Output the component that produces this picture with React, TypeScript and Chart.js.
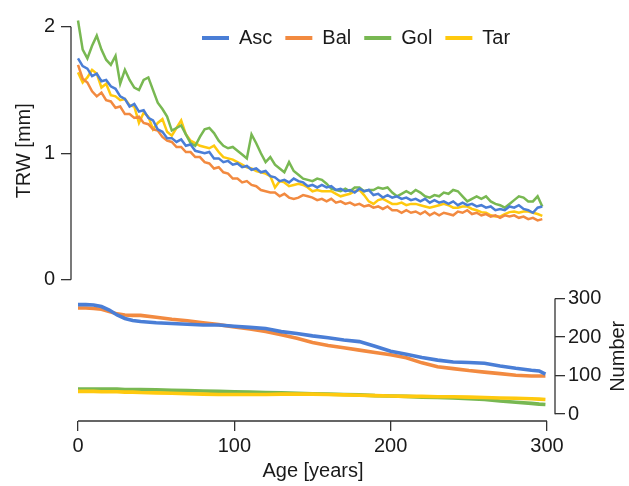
import React, { useEffect, useRef } from 'react';
import { Chart, registerables } from 'chart.js';

Chart.register(...registerables);

const SERIES = ['Asc', 'Bal', 'Gol', 'Tar'];
const COLORS = ['#4a7ed6', '#f28a40', '#78b852', '#ffc90e'];

const X_TICKS = [0, 100, 200, 300];
const TRW_TICKS = [0, 1, 2];
const NUM_TICKS = [0, 100, 200, 300];

const TRW_AGES = [
  0, 3, 6, 9, 12, 15, 18, 21, 24, 27, 30, 33, 36, 39, 42, 45, 48, 51, 54, 57,
  60, 63, 66, 69, 72, 75, 78, 81, 84, 87, 90, 93, 96, 99, 102, 105, 108, 111, 114, 117,
  120, 123, 126, 129, 132, 135, 138, 141, 144, 147, 150, 153, 156, 159, 162, 165, 168, 171, 174, 177,
  180, 183, 186, 189, 192, 195, 198, 201, 204, 207, 210, 213, 216, 219, 222, 225, 228, 231, 234, 237,
  240, 243, 246, 249, 252, 255, 258, 261, 264, 267, 270, 273, 276, 279, 282, 285, 288, 291, 294, 297,
];

const ASC_TRW = [
  1.75, 1.69, 1.67, 1.61, 1.63, 1.57, 1.58, 1.53, 1.51, 1.45, 1.43, 1.37, 1.39, 1.33, 1.34, 1.28, 1.26, 1.19, 1.17, 1.12,
  1.12, 1.09, 1.11, 1.06, 1.07, 1.02, 1.01, 1.0, 1.01, 0.96, 0.96, 0.93, 0.94, 0.91, 0.92, 0.89, 0.9, 0.87, 0.88, 0.85,
  0.86, 0.82, 0.81, 0.78, 0.79, 0.77, 0.8, 0.78, 0.77, 0.74, 0.75, 0.73, 0.75, 0.73, 0.74, 0.71, 0.72, 0.7, 0.71, 0.69,
  0.72, 0.7, 0.71, 0.67, 0.68, 0.65, 0.67, 0.65, 0.66, 0.64, 0.65, 0.63, 0.64, 0.62, 0.64, 0.61, 0.63, 0.61, 0.62, 0.6,
  0.62, 0.59, 0.61, 0.59, 0.6, 0.58, 0.59, 0.57, 0.58, 0.55, 0.56, 0.55, 0.58, 0.57, 0.59, 0.56, 0.55, 0.53, 0.57, 0.58,
];

const BAL_TRW = [
  1.7, 1.59, 1.56, 1.49, 1.45, 1.48, 1.42, 1.41, 1.36, 1.37, 1.31, 1.31, 1.28, 1.29, 1.24, 1.23, 1.19, 1.18, 1.13, 1.1,
  1.09, 1.05, 1.05, 1.01, 1.01, 0.97, 0.97, 0.93, 0.92, 0.88, 0.89, 0.85, 0.84, 0.8, 0.8, 0.77, 0.78, 0.75, 0.74, 0.71,
  0.7, 0.69, 0.69, 0.66, 0.68, 0.65, 0.64, 0.65, 0.67, 0.66, 0.65, 0.63, 0.64, 0.62, 0.64, 0.61, 0.62, 0.6, 0.61, 0.59,
  0.6, 0.58, 0.59, 0.57, 0.58, 0.56, 0.58, 0.55, 0.55, 0.53, 0.55, 0.53, 0.54, 0.52, 0.54, 0.51, 0.53, 0.51, 0.53, 0.52,
  0.51, 0.54, 0.53, 0.55, 0.52, 0.53, 0.51, 0.52, 0.5, 0.51, 0.49, 0.51, 0.5, 0.51, 0.49, 0.5, 0.48, 0.49, 0.47, 0.48,
];

const GOL_TRW = [
  2.05, 1.82, 1.75, 1.85, 1.93, 1.82, 1.74, 1.7, 1.77, 1.55, 1.66, 1.58, 1.52, 1.5, 1.58, 1.6, 1.5, 1.4, 1.35, 1.29,
  1.18, 1.2, 1.22, 1.15, 1.08, 1.06, 1.13, 1.19, 1.2, 1.16, 1.1, 1.06, 1.04, 1.05, 1.02, 0.99, 0.96, 1.15, 1.08, 1.0,
  0.93, 0.97, 0.91, 0.88, 0.85, 0.93, 0.86, 0.83, 0.8, 0.79, 0.78, 0.8, 0.79, 0.76, 0.72, 0.71, 0.7, 0.72, 0.7, 0.73,
  0.73, 0.7, 0.71, 0.71, 0.73, 0.72, 0.73, 0.69, 0.66, 0.68, 0.7, 0.68, 0.71, 0.69, 0.66, 0.65, 0.67, 0.66, 0.69, 0.68,
  0.71, 0.7, 0.66, 0.62, 0.64, 0.66, 0.64, 0.66, 0.62, 0.6, 0.59, 0.57, 0.6, 0.63, 0.66, 0.65, 0.62, 0.62, 0.66, 0.58,
];

const TAR_TRW = [
  1.64, 1.56, 1.6, 1.66, 1.63, 1.52, 1.55, 1.46, 1.45, 1.42, 1.43, 1.38, 1.37, 1.24, 1.32, 1.29, 1.19, 1.24, 1.27, 1.17,
  1.14, 1.2, 1.26, 1.15, 1.1, 1.08, 1.06, 1.05, 1.04, 1.06, 1.01, 0.97, 0.96, 0.95, 0.93, 0.91, 0.89, 0.88, 0.86, 0.85,
  0.84, 0.82, 0.73, 0.78, 0.77, 0.74, 0.75, 0.76, 0.75, 0.73, 0.7, 0.71, 0.7, 0.7, 0.7, 0.68, 0.66, 0.67, 0.68, 0.7,
  0.71, 0.67, 0.62, 0.6, 0.63, 0.64, 0.62, 0.6, 0.6, 0.61, 0.59, 0.6, 0.6, 0.59, 0.58, 0.57, 0.58, 0.59, 0.6, 0.59,
  0.57, 0.57, 0.58, 0.58, 0.56, 0.55, 0.535, 0.53, 0.51, 0.5, 0.5, 0.52, 0.535, 0.54, 0.53, 0.54, 0.54, 0.53, 0.52, 0.505,
];

const NUM_AGES = [
  0, 5, 10, 15, 20, 25, 30, 35, 40, 50, 60, 70, 80, 90, 100, 110, 120, 130,
  140, 150, 160, 170, 180, 190, 200, 210, 220, 230, 240, 250, 260, 270, 280, 290, 295, 299,
];
const ASC_NUM = [
  284, 284, 283, 279, 270, 257, 248, 243, 240, 237, 235, 233, 231, 231, 228, 225, 222, 214,
  209, 203, 198, 192, 188, 176, 163, 155, 147, 140, 135, 134, 132, 125, 119, 114, 112, 104,
];
const BAL_NUM = [
  275, 275, 274, 272, 266, 260, 257, 256, 256, 251, 246, 242, 237, 232, 226, 221, 214, 206,
  197, 186, 178, 172, 166, 160, 154, 146, 133, 123, 118, 113, 109, 105, 101, 99, 99, 99,
];
const GOL_NUM = [
  65, 65, 65, 65, 65, 65, 64, 64, 64, 63, 62, 61, 60, 59, 58, 57, 56, 55,
  54, 53, 52, 51, 50, 48, 47, 46, 44, 43, 42, 40, 38, 34, 31, 28, 26, 25,
];
const TAR_NUM = [
  59, 59, 59, 58, 58, 58, 57, 57, 56, 55, 54, 53, 52, 51, 51, 51, 51, 52,
  52, 52, 51, 50, 49, 48, 47, 46, 46, 45, 45, 44, 43, 42, 41, 40, 39, 38,
];

const TRW_SERIES = [ASC_TRW, BAL_TRW, GOL_TRW, TAR_TRW];
const NUM_SERIES = [ASC_NUM, BAL_NUM, GOL_NUM, TAR_NUM];

const FONT_FAMILY = "'Liberation Sans', Arial, Helvetica, sans-serif";
const TEXT_COLOR = '#1a1a1a';
const AXIS_COLOR = '#333333';

const pts = (xs: number[], ys: number[]) => xs.map((x, i) => ({ x, y: ys[i] }));

export default function App() {
  const ref = useRef<HTMLCanvasElement | null>(null);

  useEffect(() => {
    if (!ref.current) return;
    const font = { family: FONT_FAMILY, size: 20 };

    const axisPlugin = {
      id: 'rStyleAxes',
      beforeLayout(chart: any) {
        if (chart.legend) chart.legend.isHorizontal = () => true;
      },
      afterLayout(chart: any) {
        const lg = chart.legend;
        if (lg) {
          const w = lg.width;
          const h = lg.height;
          lg.left = 189;
          lg.right = 189 + w;
          lg.top = 15;
          lg.bottom = 15 + h;
        }
      },
      afterDraw(chart: any) {
        const { ctx, scales } = chart;
        const x = scales.x;
        const yT = scales.yT;
        const yN = scales.yN;
        ctx.save();
        ctx.strokeStyle = AXIS_COLOR;
        ctx.lineWidth = 1.3;
        ctx.beginPath();
        ctx.moveTo(x.getPixelForValue(X_TICKS[0]), x.top);
        ctx.lineTo(x.getPixelForValue(X_TICKS[X_TICKS.length - 1]), x.top);
        ctx.moveTo(yT.right, yT.getPixelForValue(TRW_TICKS[0]));
        ctx.lineTo(yT.right, yT.getPixelForValue(TRW_TICKS[TRW_TICKS.length - 1]));
        ctx.moveTo(yN.left, yN.getPixelForValue(NUM_TICKS[0]));
        ctx.lineTo(yN.left, yN.getPixelForValue(NUM_TICKS[NUM_TICKS.length - 1]));
        ctx.stroke();

        ctx.fillStyle = TEXT_COLOR;
        ctx.font = `20px ${FONT_FAMILY}`;
        ctx.textAlign = 'center';
        ctx.textBaseline = 'middle';
        const tY = yT.getPixelForValue(1.02);
        ctx.save();
        ctx.translate(24, tY);
        ctx.rotate(-Math.PI / 2);
        ctx.fillText('TRW [mm]', 0, 0);
        ctx.restore();
        const nY = (yN.getPixelForValue(NUM_TICKS[0]) + yN.getPixelForValue(NUM_TICKS[NUM_TICKS.length - 1])) / 2;
        ctx.save();
        ctx.translate(618, nY);
        ctx.rotate(-Math.PI / 2);
        ctx.fillText('Number', 0, 0);
        ctx.restore();
        ctx.restore();
      },
    };

    const datasets: any[] = [];
    SERIES.forEach((s, i) => {
      datasets.push({
        label: s,
        data: pts(TRW_AGES, TRW_SERIES[i]),
        borderColor: COLORS[i],
        backgroundColor: COLORS[i],
        borderWidth: 2.5,
        yAxisID: 'yT',
        pointRadius: 0,
        clip: false,
        order: i,
      });
    });
    const numOrder = [10, 11, 13, 12];
    SERIES.forEach((s, i) => {
      datasets.push({
        label: s + ' N',
        data: pts(NUM_AGES, NUM_SERIES[i]),
        borderColor: COLORS[i],
        backgroundColor: COLORS[i],
        borderWidth: 3.6,
        yAxisID: 'yN',
        pointRadius: 0,
        clip: false,
        order: numOrder[i],
      });
    });

    const tickGrid = {
      drawOnChartArea: false,
      drawTicks: true,
      tickLength: 10,
      color: AXIS_COLOR,
      lineWidth: 1.3,
    };

    const chart = new Chart(ref.current, {
      type: 'line',
      data: { datasets },
      plugins: [axisPlugin],
      options: {
        animation: false,
        responsive: false,
        devicePixelRatio: 1,
        layout: { padding: { top: 10, left: 0, right: 0, bottom: 0 } },
        elements: { point: { radius: 0 }, line: { tension: 0 } },
        plugins: {
          tooltip: { enabled: false },
          legend: {
            position: 'chartArea',
            align: 'start',
            labels: {
              boxWidth: 27,
              boxHeight: 4,
              padding: 13,
              font,
              color: TEXT_COLOR,
              generateLabels: () =>
                SERIES.map((s, i) => ({
                  text: s,
                  fillStyle: COLORS[i],
                  strokeStyle: COLORS[i],
                  lineWidth: 0,
                  hidden: false,
                  datasetIndex: i,
                  fontColor: TEXT_COLOR,
                })),
            },
          },
        },
        scales: {
          x: {
            type: 'linear',
            position: 'bottom',
            min: -4.478,
            max: 305.12,
            afterBuildTicks: (s: any) => {
              s.ticks = X_TICKS.map((v) => ({ value: v }));
            },
            afterFit: (s: any) => {
              s.height = 65;
            },
            grid: tickGrid,
            border: { display: false },
            ticks: { font, color: TEXT_COLOR, padding: 3, maxRotation: 0, autoSkip: false },
            title: {
              display: true,
              text: 'Age [years]',
              font,
              color: TEXT_COLOR,
              padding: { top: 0, bottom: 3 },
            },
          },
          yT: {
            type: 'linear',
            position: 'left',
            min: -1.1163,
            max: 2.0698,
            afterBuildTicks: (s: any) => {
              s.ticks = TRW_TICKS.map((v) => ({ value: v }));
            },
            afterFit: (s: any) => {
              s.width = 71;
            },
            grid: tickGrid,
            border: { display: false },
            ticks: { font, color: TEXT_COLOR, padding: 6, autoSkip: false },
          },
          yN: {
            type: 'linear',
            position: 'right',
            min: -17.8,
            max: 1027.1,
            afterBuildTicks: (s: any) => {
              s.ticks = NUM_TICKS.map((v) => ({ value: v }));
            },
            afterFit: (s: any) => {
              s.width = 74;
            },
            grid: tickGrid,
            border: { display: false },
            ticks: { font, color: TEXT_COLOR, padding: 3, autoSkip: false },
          },
        },
      } as any,
    });
    return () => chart.destroy();
  }, []);

  return (
    <div style={{ position: 'absolute', left: 0, top: 0, width: 629, height: 486, background: '#fff' }}>
      <canvas ref={ref} width={629} height={486} style={{ width: 629, height: 486, display: 'block' }} />
    </div>
  );
}
